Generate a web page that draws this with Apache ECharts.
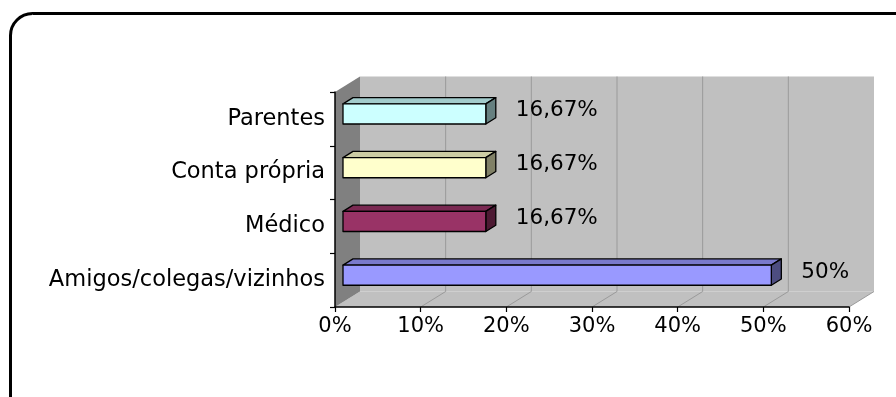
<!DOCTYPE html>
<html><head><meta charset="utf-8">
<script src="https://cdn.jsdelivr.net/npm/echarts@6/dist/echarts.min.js"></script>
<style>html,body{margin:0;padding:0;background:#fff}#c{width:896px;height:397px}</style>
</head><body><div id="c"></div>
<script>
// ---- data ----
const categories = ['Parentes', 'Conta própria', 'Médico', 'Amigos/colegas/vizinhos'];
const values = [16.67, 16.67, 16.67, 50];
const xMin = 0, xMax = 60, xInterval = 10;

// ---- styles ----
const frontColors = ['#CCFFFF', '#FFFFCC', '#993366', '#9999FF'];
const topColors   = ['#A3CCCC', '#CCCCA3', '#7A2952', '#7A7ACC'];
const sideColors  = ['#668080', '#808066', '#4D1A33', '#4D4D80'];
const FONT = 'DejaVu Sans';
const DX = 25, DY = -15.5;   // 3D depth offset in px

function fmt(v) { return String(v).replace('.', ',') + '%'; }

const chart = echarts.init(document.getElementById('c'), null, {renderer: 'canvas'});

const wallSeries = {
  type: 'custom', z: -1, clip: false, silent: true,
  data: [[0, 0]],
  renderItem(params, api) {
    const cs = params.coordSys;
    const L = cs.x, T = cs.y, R = cs.x + cs.width, B = cs.y + cs.height;
    const children = [
      {type: 'polygon', shape: {points: [[L + DX, T + DY], [R + DX, T + DY], [R + DX, B + DY], [L + DX, B + DY]]}, style: {fill: '#C0C0C0'}},
      {type: 'polygon', shape: {points: [[L, B], [L + DX, B + DY], [R + DX, B + DY], [R, B]]}, style: {fill: '#C0C0C0'}},
      {type: 'polygon', shape: {points: [[L, T], [L + DX, T + DY], [L + DX, B + DY], [L, B]]}, style: {fill: '#808080'}}
    ];
    for (let v = xMin + xInterval; v < xMax; v += xInterval) {
      const x = api.coord([v, 0])[0];
      children.push({type: 'line', shape: {x1: x + DX, y1: T + DY, x2: x + DX, y2: B + DY}, style: {stroke: '#9A9A9A', lineWidth: 1}});
    }
    for (let v = xMin + xInterval; v <= xMax; v += xInterval) {
      const x = api.coord([v, 0])[0];
      children.push({type: 'line', shape: {x1: x, y1: B, x2: x + DX, y2: B + DY}, style: {stroke: '#9A9A9A', lineWidth: 1}});
    }
    return {type: 'group', children};
  }
};

const barSeries = {
  type: 'custom', z: 3, clip: false,
  encode: {x: 0, y: 1},
  data: values.map((v, i) => [v, i]),
  renderItem(params, api) {
    const i = api.value(1), v = api.value(0);
    const c0 = api.coord([0, i]), c1 = api.coord([v, i]);
    const band = api.size([0, 1])[1];
    const ox = DX * 0.32, oy = DY * 0.32;
    const dx = DX * 0.4, dy = DY * 0.4;
    const h = band * 0.375;
    const x0 = c0[0] + ox, x1 = c1[0] + ox, yc = c0[1] + oy;
    const yT = yc - h / 2, yB = yc + h / 2;
    const edge = {stroke: '#000', lineWidth: 1.3, lineJoin: 'round'};
    return {type: 'group', children: [
      {type: 'polygon', shape: {points: [[x0, yT], [x1, yT], [x1 + dx, yT + dy], [x0 + dx, yT + dy]]}, style: Object.assign({fill: topColors[i]}, edge)},
      {type: 'polygon', shape: {points: [[x1, yT], [x1 + dx, yT + dy], [x1 + dx, yB + dy], [x1, yB]]}, style: Object.assign({fill: sideColors[i]}, edge)},
      {type: 'rect', shape: {x: x0, y: yT, width: x1 - x0, height: h}, style: Object.assign({fill: frontColors[i]}, edge)},
      {type: 'text', x: x1 + 30, y: yc - 3, style: {text: fmt(v), fill: '#000', fontFamily: FONT, fontSize: 21.5, align: 'left', verticalAlign: 'middle'}}
    ]};
  }
};

chart.setOption({
  animation: false,
  backgroundColor: '#fff',
  graphic: [{type: 'rect', z: -10, shape: {x: 10.5, y: 13.5, width: 960, height: 460, r: 22}, style: {fill: 'none', stroke: '#000', lineWidth: 3}}],
  grid: {left: 335, right: 47, top: 92, bottom: 90, containLabel: false, outerBoundsMode: 'none'},
  xAxis: {
    type: 'value', min: xMin, max: xMax, interval: xInterval,
    axisLine: {show: true, lineStyle: {color: '#000', width: 1.5}},
    axisTick: {show: true, length: 5, lineStyle: {color: '#000', width: 1.2}},
    axisLabel: {formatter: '{value}%', color: '#000', fontFamily: FONT, fontSize: 21, margin: 9},
    splitLine: {show: false}
  },
  yAxis: {
    type: 'category', data: categories, inverse: true,
    axisLine: {show: true, lineStyle: {color: '#000', width: 1.5}},
    axisTick: {show: true, length: 5, lineStyle: {color: '#000', width: 1.2}},
    axisLabel: {color: '#000', fontFamily: FONT, fontSize: 22.5, margin: 10},
    splitLine: {show: false}
  },
  series: [wallSeries, barSeries]
});
</script>
</body></html>
